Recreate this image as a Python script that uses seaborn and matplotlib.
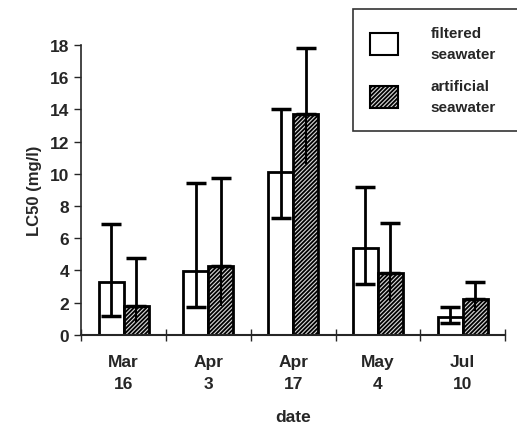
import numpy as np
import pandas as pd
import seaborn as sns
import matplotlib.pyplot as plt
from matplotlib.patches import Patch

# data
dates = ['Mar\n16', 'Apr\n3', 'Apr\n17', 'May\n4', 'Jul\n10']
filtered = [3.3, 3.95, 10.1, 5.4, 1.1]
filtered_lo = [1.15, 1.7, 7.25, 3.15, 0.75]
filtered_hi = [6.9, 9.45, 14.0, 9.2, 1.7]
artificial = [1.8, 4.3, 13.7, 3.85, 2.2]
artificial_lo = [0.8, 1.8, 10.6, 2.1, 1.5]
artificial_hi = [4.75, 9.75, 17.8, 6.95, 3.3]

df = pd.DataFrame({
    'date': dates * 2,
    'LC50': filtered + artificial,
    'water': ['filtered'] * 5 + ['artificial'] * 5,
})

sns.set_style('ticks')
plt.rcParams['font.family'] = ['Liberation Sans', 'DejaVu Sans']
plt.rcParams['hatch.linewidth'] = 1.3

fig = plt.figure(figsize=(5.17, 4.35), dpi=100)
ax = fig.add_axes([0.157, 0.228, 0.82, 0.666])

sns.barplot(data=df, x='date', y='LC50', hue='water', order=dates,
            hue_order=['filtered', 'artificial'], palette=['white', 'white'],
            width=0.59, gap=0, errorbar=None, edgecolor='black', linewidth=2,
            legend=False, ax=ax)

f_bars, a_bars = ax.containers[0], ax.containers[1]
for p in a_bars:
    p.set_hatch('////////')
    p.set_facecolor('#d8d8d8')

fx = [p.get_x() + p.get_width() / 2 for p in f_bars]
axx = [p.get_x() + p.get_width() / 2 for p in a_bars]

# filtered: caps on both ends
ax.errorbar(fx, filtered,
            yerr=[np.subtract(filtered, filtered_lo), np.subtract(filtered_hi, filtered)],
            fmt='none', ecolor='black', elinewidth=2, capsize=7, capthick=2.5, zorder=5)
# artificial: cap only on top, stem down inside the bar
ax.errorbar(axx, artificial, yerr=[[0] * 5, np.subtract(artificial_hi, artificial)],
            fmt='none', ecolor='black', elinewidth=2, capsize=7, capthick=2.5, zorder=5)
ax.vlines(axx, artificial_lo, artificial, color='black', lw=1.5, zorder=5)

ax.set_ylim(0, 18)
ax.set_xlim(-0.5, 4.5)
ax.set_yticks(range(0, 19, 2))
ax.set_xticks(np.arange(-0.5, 5, 1), minor=False)
ax.set_xticklabels([])
ax.set_xticks(range(5), minor=True)
ax.set_xticklabels(dates, minor=True, fontsize=12.5, fontweight='bold', linespacing=1.55)
ax.tick_params(axis='x', which='minor', length=0, pad=14)
ax.tick_params(axis='x', which='major', direction='inout', length=8, width=1)
ax.tick_params(axis='y', labelsize=12.5, length=5, width=1)
for t in ax.get_yticklabels():
    t.set_fontweight('bold')

sns.despine(ax=ax)
ax.spines['left'].set_linewidth(1.2)
ax.spines['bottom'].set_linewidth(1.5)

ax.set_xlabel('date', fontsize=12.5, fontweight='bold', labelpad=13)
ax.set_ylabel('LC50 (mg/l)', fontsize=12, fontweight='bold', labelpad=6)

handles = [Patch(facecolor='white', edgecolor='black', lw=1.5),
           Patch(facecolor='#d8d8d8', edgecolor='black', hatch='////////', lw=1.5)]
leg = fig.legend(handles, ['filtered\nseawater', 'artificial\nseawater'],
                 loc='upper left', bbox_to_anchor=(0.683, 0.976, 0.35, 0.0),
                 mode='expand', frameon=True, fancybox=False, edgecolor='black',
                 prop={'size': 11, 'weight': 'bold'},
                 handlelength=1.85, handleheight=1.85,
                 handletextpad=2.1, labelspacing=1.2, borderpad=1.1,
                 borderaxespad=0)
for t in leg.get_texts():
    t.set_linespacing(1.6)
leg.get_frame().set_linewidth(1.2)

fig.savefig('out.png', dpi=100)
